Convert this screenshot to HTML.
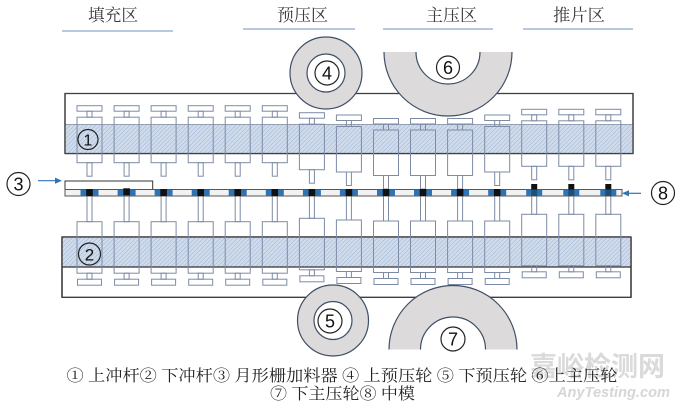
<!DOCTYPE html>
<html><head><meta charset="utf-8"><style>
html,body{margin:0;padding:0;background:#fff;}
svg{display:block;}
</style></head><body>
<svg width="680" height="411" viewBox="0 0 680 411" xmlns="http://www.w3.org/2000/svg">
<defs>
<pattern id="hatch" width="3" height="3" patternUnits="userSpaceOnUse" patternTransform="rotate(45)">
<rect width="3" height="3" fill="#d0dcec"/>
<line x1="0" y1="0" x2="0" y2="3" stroke="#9db3d2" stroke-width="1"/>
</pattern>
<g id="up" fill="none" stroke="#7d8ba6" stroke-width="1">
<rect x="-12.5" y="0" width="25" height="5.5"/>
<rect x="-2.5" y="5.5" width="5" height="6"/>
<rect x="-12.5" y="11.5" width="25" height="45.5"/>
<rect x="-2.5" y="57" width="5" height="13.5"/>
</g>
<g id="lo" fill="none" stroke="#7d8ba6" stroke-width="1">
<rect x="-12.5" y="0" width="25" height="51.5"/>
<rect x="-2.5" y="51.5" width="5" height="6"/>
<rect x="-12" y="57.5" width="24" height="6"/>
</g>
<clipPath id="c6"><rect x="300" y="52" width="300" height="100"/></clipPath>
<clipPath id="c7"><rect x="300" y="250" width="300" height="99.5"/></clipPath>
</defs>

<!-- zone titles -->
<g font-family="'Liberation Serif','Noto Serif CJK SC',serif" font-size="17" fill="#3a3a3a">
<text x="88" y="21" textLength="50" lengthAdjust="spacingAndGlyphs">填充区</text>
<text x="277" y="21" textLength="51" lengthAdjust="spacingAndGlyphs">预压区</text>
<text x="426" y="21" textLength="51" lengthAdjust="spacingAndGlyphs">主压区</text>
<text x="553" y="21" textLength="52" lengthAdjust="spacingAndGlyphs">推片区</text>
</g>
<g stroke="#9fb7d4" stroke-width="1.5">
<line x1="62" y1="31" x2="173" y2="31"/>
<line x1="243" y1="29" x2="355" y2="29"/>
<line x1="383" y1="29" x2="493" y2="29"/>
<line x1="523" y1="29" x2="633" y2="29"/>
</g>

<!-- upper frame -->
<rect x="65" y="93.5" width="568" height="60" fill="#fff" stroke="#404040" stroke-width="1.3"/>
<rect x="65" y="124.5" width="568" height="29" fill="url(#hatch)"/>
<line x1="65" y1="124.5" x2="633" y2="124.5" stroke="#7a8699" stroke-width="0.8"/>
<line x1="65" y1="153.5" x2="633" y2="153.5" stroke="#404040" stroke-width="1.3"/>
<line x1="65" y1="93.5" x2="65" y2="153.5" stroke="#404040" stroke-width="1.3"/>
<line x1="633" y1="93.5" x2="633" y2="153.5" stroke="#404040" stroke-width="1.3"/>

<!-- lower frame -->
<rect x="62" y="237" width="569" height="60.3" fill="#fff" stroke="#333" stroke-width="1.3"/>
<rect x="62" y="237" width="569" height="30" fill="url(#hatch)"/>
<line x1="62" y1="237" x2="631" y2="237" stroke="#333" stroke-width="1.3"/>
<line x1="62" y1="267" x2="631" y2="267" stroke="#333" stroke-width="1.3"/>
<line x1="62" y1="237" x2="62" y2="297.3" stroke="#333" stroke-width="1.3"/>
<line x1="631" y1="237" x2="631" y2="297.3" stroke="#333" stroke-width="1.3"/>

<!-- upper punches -->
<use href="#up" x="89.5" y="105.7"/>
<use href="#up" x="126.6" y="105.7"/>
<use href="#up" x="163.6" y="105.7"/>
<use href="#up" x="200.7" y="105.7"/>
<use href="#up" x="237.7" y="105.7"/>
<use href="#up" x="274.8" y="105.7"/>
<use href="#up" x="311.9" y="112.7"/>
<use href="#up" x="348.9" y="115"/>
<use href="#up" x="386" y="118.5"/>
<use href="#up" x="423" y="118.5"/>
<use href="#up" x="460.1" y="118.5"/>
<use href="#up" x="497.2" y="115"/>
<use href="#up" x="534.2" y="109.3"/>
<use href="#up" x="571.3" y="109.3"/>
<use href="#up" x="608.3" y="109.3"/>

<!-- lower punches -->
<use href="#lo" x="89.5" y="221.7"/>
<use href="#lo" x="126.6" y="221.7"/>
<use href="#lo" x="163.6" y="221.7"/>
<use href="#lo" x="200.7" y="221.7"/>
<use href="#lo" x="237.7" y="221.7"/>
<use href="#lo" x="274.8" y="221.7"/>
<use href="#lo" x="311.9" y="218.3"/>
<use href="#lo" x="348.9" y="220"/>
<use href="#lo" x="386" y="221"/>
<use href="#lo" x="423" y="221"/>
<use href="#lo" x="460.1" y="221"/>
<use href="#lo" x="497.2" y="221"/>
<use href="#lo" x="534.2" y="214.3"/>
<use href="#lo" x="571.3" y="214.3"/>
<use href="#lo" x="608.3" y="214.3"/>
<g fill="none" stroke="#7d8ba6" stroke-width="1">
<rect x="87" y="196" width="5" height="25.7"/>
<rect x="124.1" y="196" width="5" height="25.7"/>
<rect x="161.1" y="196" width="5" height="25.7"/>
<rect x="198.2" y="196" width="5" height="25.7"/>
<rect x="235.2" y="196" width="5" height="25.7"/>
<rect x="272.3" y="196" width="5" height="25.7"/>
<rect x="309.4" y="196" width="5" height="22.3"/>
<rect x="346.4" y="196" width="5" height="24"/>
<rect x="383.5" y="196" width="5" height="25"/>
<rect x="420.5" y="196" width="5" height="25"/>
<rect x="457.6" y="196" width="5" height="25"/>
<rect x="494.7" y="196" width="5" height="25"/>
<rect x="531.7" y="196" width="5" height="18.3"/>
<rect x="568.8" y="196" width="5" height="18.3"/>
<rect x="605.8" y="196" width="5" height="18.3"/>
</g>

<!-- feeder and die -->
<rect x="65" y="181" width="87.7" height="8.5" fill="#fff" stroke="#333" stroke-width="1"/>
<rect x="65" y="189.5" width="557" height="6.5" fill="#f2f2f2" stroke="#555" stroke-width="1"/>
<g>
<g fill="#2e74b5">
<rect x="80.5" y="190" width="18" height="6"/>
<rect x="117.6" y="190" width="18" height="6"/>
<rect x="154.6" y="190" width="18" height="6"/>
<rect x="191.7" y="190" width="18" height="6"/>
<rect x="228.7" y="190" width="18" height="6"/>
<rect x="265.8" y="190" width="18" height="6"/>
<rect x="302.9" y="190" width="18" height="6"/>
<rect x="339.9" y="190" width="18" height="6"/>
<rect x="377" y="190" width="18" height="6"/>
<rect x="414" y="190" width="18" height="6"/>
<rect x="451.1" y="190" width="18" height="6"/>
<rect x="488.2" y="190" width="18" height="6"/>
<rect x="526.2" y="189.5" width="16" height="6.5"/>
<rect x="563.3" y="189.5" width="16" height="6.5"/>
<rect x="600.3" y="189.5" width="16" height="6.5"/>
</g>
<g fill="#111">
<rect x="86.2" y="189" width="6.6" height="7"/>
<rect x="123.3" y="188.3" width="6.6" height="7"/>
<rect x="160.3" y="189" width="6.6" height="7"/>
<rect x="197.4" y="189" width="6.6" height="7"/>
<rect x="234.4" y="189" width="6.6" height="7"/>
<rect x="271.5" y="189" width="6.6" height="7"/>
<rect x="308.6" y="189" width="6.6" height="7"/>
<rect x="345.6" y="189" width="6.6" height="7"/>
<rect x="382.7" y="189" width="6.6" height="7"/>
<rect x="419.7" y="189" width="6.6" height="7"/>
<rect x="456.8" y="189" width="6.6" height="7"/>
<rect x="493.9" y="189" width="6.6" height="7"/>
<rect x="531.2" y="184" width="6" height="5.5"/>
<rect x="568.3" y="184" width="6" height="5.5"/>
<rect x="605.3" y="184" width="6" height="5.5"/>
</g>
<g fill="#1f4e79">
<rect x="531.2" y="189.5" width="6" height="6.5"/>
<rect x="568.3" y="189.5" width="6" height="6.5"/>
<rect x="605.3" y="189.5" width="6" height="6.5"/>
</g>
</g>

<!-- rollers -->
<g stroke="#3f4f66" stroke-width="1.2">
<circle cx="326" cy="73" r="36" fill="#dcdadb"/>
<circle cx="326" cy="73" r="19" fill="#fff"/>
<g clip-path="url(#c6)">
<circle cx="448" cy="52" r="64" fill="#dcdadb"/>
<circle cx="448" cy="52" r="32" fill="#fff"/>
</g>
<circle cx="333" cy="320.5" r="35.5" fill="#dcdadb"/>
<circle cx="333" cy="320.5" r="19" fill="#fff"/>
<g clip-path="url(#c7)">
<circle cx="453" cy="349.5" r="64" fill="#dcdadb"/>
<circle cx="453" cy="349.5" r="32.5" fill="#fff"/>
</g>
</g>

<!-- circled labels -->
<g fill="none" stroke="#222" stroke-width="1.2">
<circle cx="88" cy="139.5" r="10"/>
<circle cx="89.5" cy="254" r="11"/>
<circle cx="18.5" cy="184" r="11.5"/>
<circle cx="663" cy="193" r="11.5"/>
<circle cx="327" cy="73" r="12"/>
<circle cx="448" cy="67.5" r="11.5"/>
<circle cx="330" cy="321" r="12"/>
<circle cx="453" cy="339" r="12"/>
</g>
<g font-family="'Liberation Sans',sans-serif" fill="#111" text-anchor="middle">
<text x="88" y="145.5" font-size="16">1</text>
<text x="89.5" y="260.5" font-size="17">2</text>
<text x="18.5" y="190.5" font-size="18">3</text>
<text x="663" y="199.5" font-size="18">8</text>
<text x="327" y="79.5" font-size="18">4</text>
<text x="448" y="74" font-size="18">6</text>
<text x="330" y="327.5" font-size="18">5</text>
<text x="453" y="345.5" font-size="18">7</text>
</g>

<!-- arrows -->
<g stroke="#2e75b6" stroke-width="1.2" fill="#2e75b6">
<line x1="38" y1="180.7" x2="57" y2="180.7"/>
<polygon points="62,180.7 55,177.6 55,183.8" stroke="none"/>
<line x1="641" y1="193.3" x2="627" y2="193.3"/>
<polygon points="622,193.3 629,190.2 629,196.4" stroke="none"/>
</g>

<!-- watermark -->
<text x="530" y="376" font-family="'Noto Sans CJK SC',sans-serif" font-weight="bold" font-size="27" fill="#dadada" textLength="135" lengthAdjust="spacingAndGlyphs">嘉峪检测网</text>
<text x="557" y="397" font-family="'Liberation Sans',sans-serif" font-style="italic" font-weight="bold" font-size="15" fill="#d6d6d6" textLength="113" lengthAdjust="spacingAndGlyphs">AnyTesting.com</text>

<!-- legend -->
<g font-family="'Liberation Serif','Noto Serif CJK SC',serif" font-size="16" fill="#222">
<text x="66.5" y="381" textLength="551" lengthAdjust="spacingAndGlyphs">① 上冲杆② 下冲杆③ 月形栅加料器 ④ 上预压轮 ⑤ 下预压轮 ⑥上主压轮</text>
<text x="270" y="399" textLength="145" lengthAdjust="spacingAndGlyphs">⑦ 下主压轮⑧ 中模</text>
</g>
</svg>
</body></html>
